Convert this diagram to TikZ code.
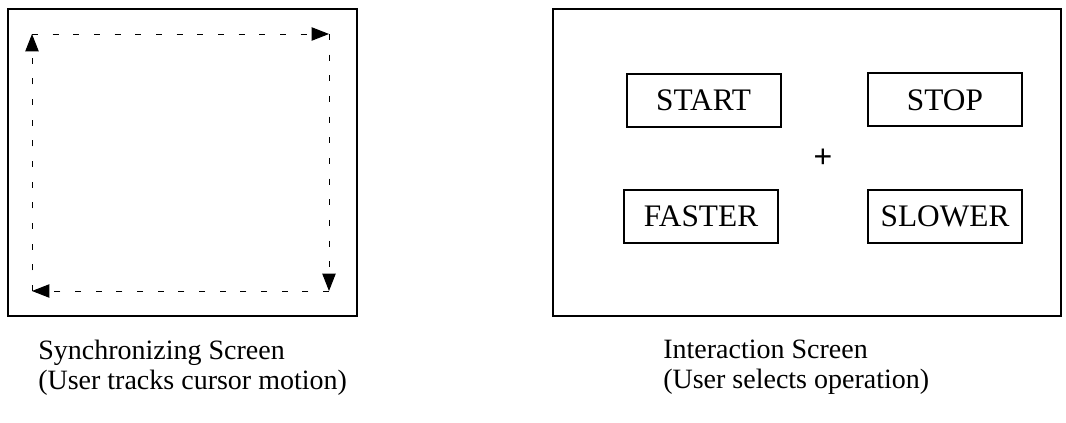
\documentclass[tikz,border=0pt]{standalone}
\usepackage{fontspec}
\setmainfont{Liberation Serif}
\newfontfamily\plusfont{Liberation Sans}
\usetikzlibrary{arrows.meta, positioning}

\tikzset{
  screen/.style={draw, line width=1.9pt},
  track/.style={draw, line width=0.7pt, dash pattern=on 4.5pt off 11pt,
                -{Triangle[length=13pt, width=10pt]}},
  button/.style={draw, line width=1.5pt, minimum width=115.5pt,
                 minimum height=39.75pt, inner sep=0pt,
                 font=\fontsize{23.5pt}{26pt}\selectfont},
  caption/.style={align=left, inner sep=0pt, anchor=north west,
                  font=\fontsize{21pt}{22pt}\selectfont}
}

\begin{document}
\begin{tikzpicture}[x=0.75pt, y=-0.75pt]
      \useasboundingbox (0,0) rectangle (1066,423);
      % Synchronizing screen
      \draw[screen] (8,9) rectangle (357,316);
      \coordinate (tl) at (32,34);
      \coordinate (tr) at (329,34);
      \coordinate (br) at (329,291);
      \coordinate (bl) at (32,291);
      \draw[track] (bl) -- (tl);
      \draw[track] (tl) -- (tr);
      \draw[track] (tr) -- (br);
      \draw[track] (br) -- (bl);
      \node[caption] (synccap) at (38,340)
        {Synchronizing Screen\\(User tracks cursor motion)};
      % Interaction screen
      \draw[screen] (553,9) rectangle (1061,316);
      \node[button] (start) at (703.5,100.5) {START};
      \node[button] (stop) at (945,100) {STOP};
      \node[button] (faster) at (701,216.5) {FASTER};
      \node[button] (slower) at (945,216.5) {SLOWER};
      \node[font=\plusfont\fontsize{24pt}{26pt}\selectfont, inner sep=0pt]
        (cursor) at (823,158) {+};
      \node[caption] (intercap) at (663,340)
        {Interaction Screen\\(User selects operation)};
\end{tikzpicture}
\end{document}
